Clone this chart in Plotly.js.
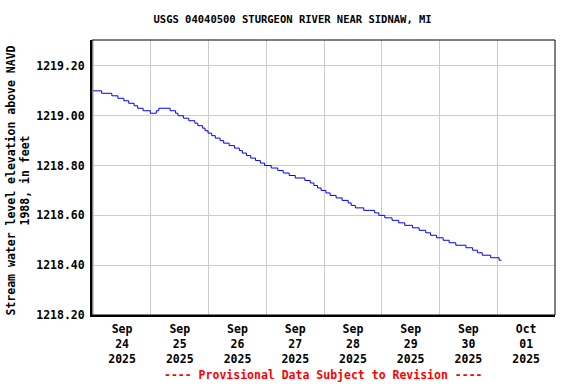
<!DOCTYPE html>
<html>
<head>
<meta charset="utf-8">
<script src="https://cdn.plot.ly/plotly-3.0.1.min.js"></script>
<style>
html,body{margin:0;padding:0;background:#fff;}
#chart{width:576px;height:384px;}
</style>
</head>
<body>
<div id="chart"></div>
<script>
const chartTitle = "USGS 04040500 STURGEON RIVER NEAR SIDNAW, MI";
const yTitle = "Stream water level elevation above NAVD<br>1988, in feet";
const footer = "---- Provisional Data Subject to Revision ----";

const times = [
'2025-09-24 00:00','2025-09-24 03:30','2025-09-24 07:45','2025-09-24 10:15','2025-09-24 12:45',
'2025-09-24 14:45','2025-09-24 17:00','2025-09-24 18:30','2025-09-24 20:45','2025-09-24 23:45',
'2025-09-25 02:15','2025-09-25 03:15','2025-09-25 08:00','2025-09-25 10:15','2025-09-25 11:15',
'2025-09-25 13:30','2025-09-25 15:45','2025-09-25 18:15','2025-09-25 19:30','2025-09-25 21:30',
'2025-09-25 22:30','2025-09-25 23:45',
'2025-09-26 01:15','2025-09-26 02:45','2025-09-26 04:45','2025-09-26 06:15','2025-09-26 08:30',
'2025-09-26 10:45','2025-09-26 12:45','2025-09-26 14:00','2025-09-26 15:45','2025-09-26 17:30',
'2025-09-26 19:30','2025-09-26 21:30','2025-09-26 23:15',
'2025-09-27 02:00','2025-09-27 04:45','2025-09-27 07:00','2025-09-27 09:30','2025-09-27 12:00',
'2025-09-27 16:00','2025-09-27 18:15','2025-09-27 19:45','2025-09-27 21:15','2025-09-27 22:45',
'2025-09-28 00:45','2025-09-28 02:30','2025-09-28 05:00','2025-09-28 07:30','2025-09-28 10:00',
'2025-09-28 11:15','2025-09-28 13:00','2025-09-28 16:30','2025-09-28 21:00','2025-09-28 22:45',
'2025-09-29 01:15','2025-09-29 04:15','2025-09-29 07:00','2025-09-29 09:30','2025-09-29 12:45',
'2025-09-29 15:30','2025-09-29 18:15','2025-09-29 20:15','2025-09-29 22:45',
'2025-09-30 01:30','2025-09-30 04:00','2025-09-30 06:45','2025-09-30 11:00','2025-09-30 13:45',
'2025-09-30 15:45','2025-09-30 17:45','2025-09-30 21:15',
'2025-10-01 00:45','2025-10-01 01:45'
];
const levels = [
1219.10,1219.09,1219.08,1219.07,1219.06,
1219.05,1219.04,1219.03,1219.02,1219.01,
1219.02,1219.03,1219.02,1219.01,1219.00,
1218.99,1218.98,1218.97,1218.96,1218.95,
1218.94,1218.93,
1218.92,1218.91,1218.90,1218.89,1218.88,
1218.87,1218.86,1218.85,1218.84,1218.83,
1218.82,1218.81,1218.80,
1218.79,1218.78,1218.77,1218.76,1218.75,
1218.74,1218.73,1218.72,1218.71,1218.70,
1218.69,1218.68,1218.67,1218.66,1218.65,
1218.64,1218.63,1218.62,1218.61,1218.60,
1218.59,1218.58,1218.57,1218.56,1218.55,
1218.54,1218.53,1218.52,1218.51,
1218.50,1218.49,1218.48,1218.47,1218.46,
1218.45,1218.44,1218.43,
1218.42,1218.42
];

const tickDates = ['2025-09-24 12:00','2025-09-25 12:00','2025-09-26 12:00','2025-09-27 12:00',
                   '2025-09-28 12:00','2025-09-29 12:00','2025-09-30 12:00','2025-10-01 12:00'];
const tickLabels = ['Sep<br>24<br>2025','Sep<br>25<br>2025','Sep<br>26<br>2025','Sep<br>27<br>2025',
                    'Sep<br>28<br>2025','Sep<br>29<br>2025','Sep<br>30<br>2025','Oct<br>01<br>2025'];
const yTicks = [1218.2, 1218.4, 1218.6, 1218.8, 1219.0, 1219.2];

const FONT = '"DejaVu Sans Mono", "Liberation Mono", monospace';

const trace = {
  x: times, y: levels, type: 'scatter', mode: 'lines',
  line: {color: '#0000ff', width: 1, shape: 'hv'},
  hoverinfo: 'skip'
};

const layout = {
  width: 576, height: 384,
  margin: {l: 92, r: 21, t: 40, b: 69, pad: 0},
  paper_bgcolor: '#ffffff', plot_bgcolor: '#ffffff',
  showlegend: false,
  font: {family: FONT, size: 11.5, color: '#000000', weight: 'bold'},
  title: {text: chartTitle, x: 0.508, xanchor: 'center', xref: 'container',
          y: 1 - 19/384, yanchor: 'middle', yref: 'container',
          font: {family: FONT, size: 10.5, color: '#000', weight: 'bold'}},
  xaxis: {
    type: 'date',
    range: ['2025-09-23 23:30', '2025-10-02 00:00'],
    tickmode: 'array', tickvals: tickDates, ticktext: tickLabels,
    showgrid: false, zeroline: false,
    ticks: '', ticklen: 0, ticklabelstandoff: 2,
    showline: true, linecolor: '#000', linewidth: 2,
    tickfont: {family: FONT, size: 11.5, color: '#000', weight: 'bold'},
    minor: {tickmode: 'linear', tick0: '2025-09-24 00:00', dtick: 86400000,
            showgrid: true, gridcolor: '#cccccc', gridwidth: 1, ticks: ''}
  },
  yaxis: {
    range: [1218.2, 1219.304],
    tickmode: 'array', tickvals: yTicks,
    tickformat: '.2f',
    showgrid: true, gridcolor: '#cccccc', gridwidth: 1,
    zeroline: false, ticks: '', ticklen: 0, ticklabelstandoff: 3,
    showline: true, linecolor: '#000', linewidth: 2,
    tickfont: {family: FONT, size: 11.5, color: '#000', weight: 'bold'}
  },
  shapes: [{type: 'rect', xref: 'paper', yref: 'paper', x0: 0, x1: 1, y0: 0, y1: 1,
            line: {color: '#000', width: 1}, fillcolor: 'rgba(0,0,0,0)'}],
  annotations: [
    {text: yTitle, xref: 'paper', yref: 'paper', x: 0, y: 0.5, xshift: -74, yshift: -3,
     xanchor: 'center', yanchor: 'middle', textangle: -90, showarrow: false,
     font: {family: FONT, size: 11.5, color: '#000', weight: 'bold'}},
    {text: footer, xref: 'paper', yref: 'paper', x: 0.5, y: 0, yshift: -60,
     xanchor: 'center', yanchor: 'middle', showarrow: false,
     font: {family: FONT, size: 11.5, color: '#ff0000', weight: 'bold'}}
  ]
};

Plotly.newPlot('chart', [trace], layout, {displayModeBar: false, staticPlot: true});
</script>
</body>
</html>
